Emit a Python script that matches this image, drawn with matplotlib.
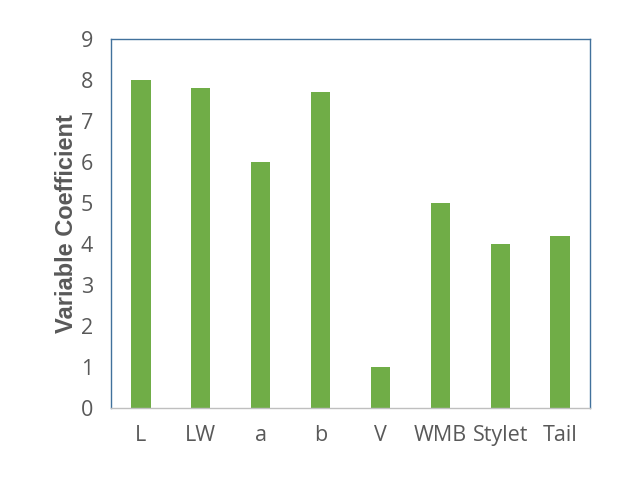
import matplotlib
matplotlib.use("Agg")
import matplotlib.pyplot as plt

categories = ["L", "LW", "a", "b", "V", "WMB", "Stylet", "Tail"]
values = [8.0, 7.8, 6.0, 7.7, 1.0, 5.0, 4.0, 4.2]

fig = plt.figure(figsize=(6.39, 4.95), dpi=100)
ax = fig.add_axes([0.1737, 0.1758, 0.7496, 0.7454])

x = range(len(categories))
ax.bar(x, values, width=0.32, color="#70AD47")

ax.set_xlim(-0.5, len(categories) - 0.5)
ax.set_ylim(0, 9)
ax.set_yticks(range(0, 10))
ax.set_xticks(list(x))
ax.set_xticklabels(categories)

for lab in ax.get_xticklabels():
    lab.set_fontfamily("Open Sans")
    lab.set_fontsize(15.5)
    lab.set_color("#595959")
for lab in ax.get_yticklabels():
    lab.set_fontfamily("Open Sans")
    lab.set_fontsize(15.5)
    lab.set_color("#595959")
ax.tick_params(axis="x", length=0, pad=12)
ax.tick_params(axis="y", length=0, pad=13)

for side in ["left", "top", "right"]:
    ax.spines[side].set_color("#41719C")
    ax.spines[side].set_linewidth(1.0)
ax.spines["bottom"].set_color("#BFBFBF")
ax.spines["bottom"].set_linewidth(1.0)

ax.set_ylabel("Variable Coefficient", family="Liberation Sans", fontsize=17,
              fontweight="bold", color="#595959", labelpad=2)

fig.savefig("out.png", dpi=100)
